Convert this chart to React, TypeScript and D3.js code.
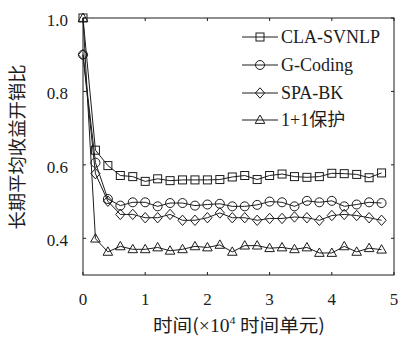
import React from 'react';
import * as d3 from 'd3';

const xs = d3.range(25).map(i => i * 0.2);

const claSvnlp = [1.0, 0.64, 0.598, 0.571, 0.568, 0.555, 0.562, 0.557, 0.559, 0.559, 0.559, 0.56, 0.567, 0.571, 0.56, 0.571, 0.575, 0.568, 0.566, 0.568, 0.577, 0.576, 0.574, 0.565, 0.578];
const gCoding = [0.9, 0.606, 0.507, 0.489, 0.498, 0.498, 0.487, 0.496, 0.496, 0.489, 0.492, 0.494, 0.487, 0.487, 0.491, 0.5, 0.498, 0.487, 0.502, 0.498, 0.502, 0.487, 0.492, 0.498, 0.496];
const spaBk = [0.9, 0.576, 0.501, 0.465, 0.465, 0.456, 0.456, 0.465, 0.449, 0.449, 0.456, 0.469, 0.456, 0.456, 0.449, 0.454, 0.454, 0.458, 0.456, 0.449, 0.462, 0.465, 0.462, 0.456, 0.449];
const onePlusOne = [1.0, 0.399, 0.363, 0.378, 0.37, 0.37, 0.375, 0.366, 0.37, 0.378, 0.375, 0.382, 0.363, 0.38, 0.38, 0.373, 0.375, 0.37, 0.375, 0.36, 0.36, 0.378, 0.363, 0.373, 0.369];

const seriesNames = ['CLA-SVNLP', 'G-Coding', 'SPA-BK', '1+1保护'];
const seriesValues = [claSvnlp, gCoding, spaBk, onePlusOne];
const markers = ['square', 'circle', 'diamond', 'triangle'];

const xTicks = [0, 1, 2, 3, 4, 5];
const yTicks = [0.4, 0.6, 0.8, 1.0];

const serif = 'Liberation Serif, DejaVu Serif, Times New Roman, serif';
const cjk = 'Noto Sans CJK SC, sans-serif';
const ink = '#1c1c1c';

const Marker: React.FC<{ kind: string; x: number; y: number }> = ({ kind, x, y }) => {
  const common = { fill: 'none', stroke: ink, strokeWidth: 1 };
  if (kind === 'square') return <rect x={x - 4} y={y - 4} width={8} height={8} {...common} />;
  if (kind === 'circle') return <circle cx={x} cy={y} r={4.5} {...common} />;
  if (kind === 'diamond')
    return <path d={`M${x},${y - 5.2}L${x + 4.6},${y}L${x},${y + 5.2}L${x - 4.6},${y}Z`} {...common} />;
  return <path d={`M${x},${y - 5}L${x + 4.8},${y + 3.4}L${x - 4.8},${y + 3.4}Z`} {...common} />;
};

export default function App() {
  const margin = { left: 83, right: 394, top: 18, bottom: 275 };

  const x = d3.scaleLinear().domain([0, 5]).range([margin.left, margin.right]);
  const y = d3.scaleLinear().domain([0.3, 1.0]).range([margin.bottom, margin.top]);

  const line = d3.line<number>()
    .x((_, i) => x(xs[i]))
    .y(d => y(d));

  const legendX = 242;
  const legendY = [37, 65, 93, 120];

  return (
    <svg width={398} height={343} style={{ position: 'absolute', left: 0, top: 0, background: '#fff' }}>
      {/* frame */}
      <rect
        x={margin.left}
        y={margin.top}
        width={margin.right - margin.left}
        height={margin.bottom - margin.top}
        fill="none"
        stroke={ink}
        strokeWidth={1}
      />

      {/* ticks point inward on all four sides */}
      {xTicks.map(t => (
        <g key={`xt${t}`}>
          <line x1={x(t)} x2={x(t)} y1={margin.bottom} y2={margin.bottom - 3} stroke={ink} />
          <line x1={x(t)} x2={x(t)} y1={margin.top} y2={margin.top + 3} stroke={ink} />
          <text x={x(t)} y={305} textAnchor="middle" fontFamily={serif} fontSize={17} fill={ink}>
            {t}
          </text>
        </g>
      ))}
      {yTicks.map(t => (
        <g key={`yt${t}`}>
          <line x1={margin.left} x2={margin.left + 3} y1={y(t)} y2={y(t)} stroke={ink} />
          <line x1={margin.right} x2={margin.right - 3} y1={y(t)} y2={y(t)} stroke={ink} />
          <text x={68} y={y(t) + 8} textAnchor="end" fontFamily={serif} fontSize={17} fill={ink}>
            {t.toFixed(1)}
          </text>
        </g>
      ))}

      {/* series */}
      {seriesValues.map((vals, s) => (
        <g key={seriesNames[s]}>
          <path d={line(vals) || ''} fill="none" stroke={ink} strokeWidth={1} />
          {vals.map((v, i) => (
            <Marker key={i} kind={markers[s]} x={x(xs[i])} y={y(v)} />
          ))}
        </g>
      ))}

      {/* legend */}
      {seriesNames.map((name, s) => (
        <g key={`lg${name}`}>
          <line x1={legendX} x2={legendX + 36} y1={legendY[s]} y2={legendY[s]} stroke={ink} />
          <Marker kind={markers[s]} x={legendX + 18} y={legendY[s]} />
          <text x={legendX + 39} y={legendY[s] + 6} fontFamily={`Liberation Serif, DejaVu Serif, Noto Sans CJK SC, serif`} fontSize={18} fill={ink}>
            {name}
          </text>
        </g>
      ))}

      {/* axis titles */}
      <text
        x={239}
        y={332}
        textAnchor="middle"
        fontFamily={cjk}
        fontSize={18}
        textLength={172}
        lengthAdjust="spacingAndGlyphs"
        fill={ink}
      >
        时间(<tspan fontFamily={serif}>×10</tspan>
        <tspan fontFamily={serif} fontSize={11} dy={-8}>4</tspan>
        <tspan dy={8}> 时间单元)</tspan>
      </text>
      <text
        transform="translate(24,147) rotate(-90)"
        textAnchor="middle"
        fontFamily={cjk}
        fontSize={18}
        textLength={165}
        lengthAdjust="spacingAndGlyphs"
        fill={ink}
      >
        长期平均收益开销比
      </text>
    </svg>
  );
}
